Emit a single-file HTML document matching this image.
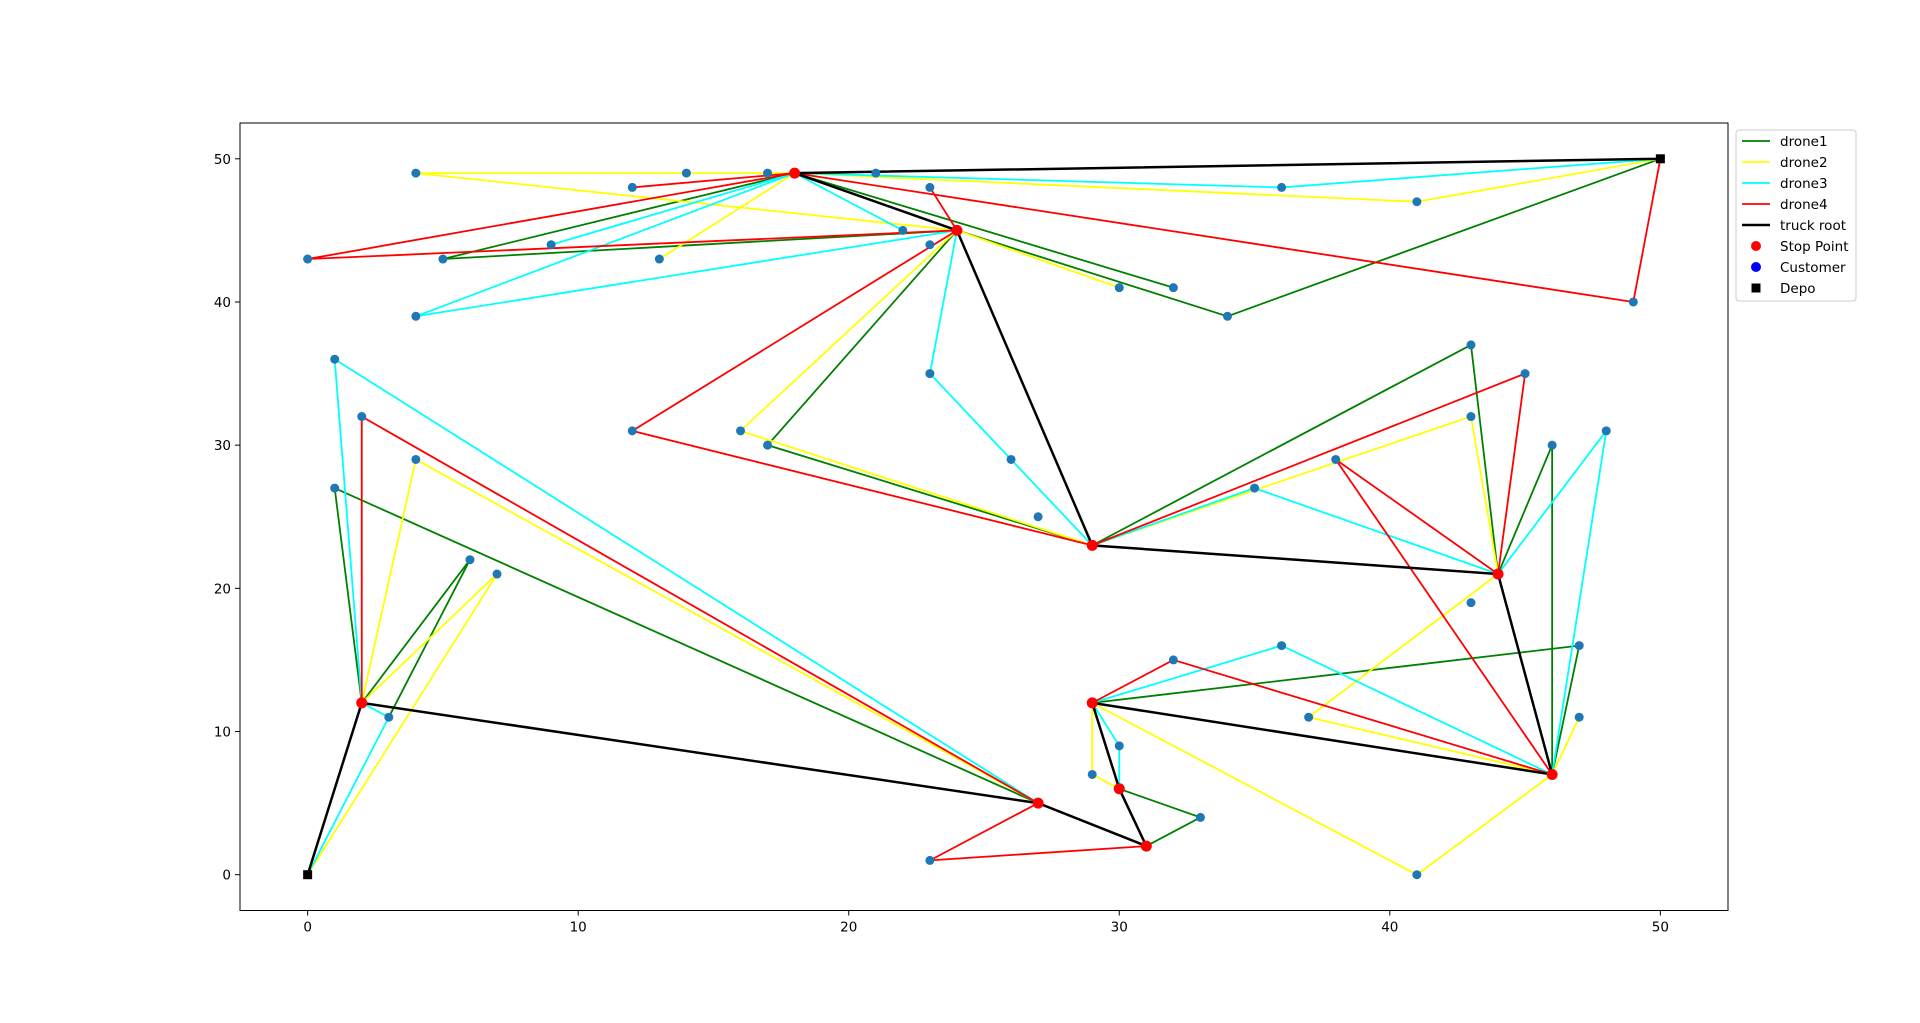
<!DOCTYPE html>
<html><head><meta charset="utf-8"><style>
body{margin:0;background:#fff;}
svg{display:block;font-family:"DejaVu Sans","Liberation Sans",sans-serif;}
</style></head><body>
<svg id="chart" width="1920" height="1023"></svg>
<script>
const xTicks=[0,10,20,30,40,50];
const yTicks=[0,10,20,30,40,50];
const depots=[[0,0],[50,50]];
const stops=[[2,12],[27,5],[31,2],[30,6],[29,12],[46,7],[44,21],[29,23],[24,45],[18,49]];
const truckRoute=[[0,0],[2,12],[27,5],[31,2],[30,6],[29,12],[46,7],[44,21],[29,23],[24,45],[18,49],[50,50]];
const drone1=[[[18,49],[5,43],[24,45]],[[18,49],[32,41]],[[24,45],[34,39],[50,50]],[[24,45],[17,30],[29,23]],[[29,23],[43,37],[44,21]],[[44,21],[46,30],[46,7]],[[46,7],[47,16],[29,12]],[[30,6],[33,4],[31,2]],[[27,5],[1,27],[2,12]],[[2,12],[6,22],[3,11]]];
const drone2=[[[18,49],[4,49],[24,45]],[[13,43],[18,49]],[[18,49],[41,47],[50,50]],[[24,45],[30,41]],[[24,45],[16,31],[29,23]],[[29,23],[43,32],[44,21]],[[44,21],[37,11],[46,7]],[[46,7],[47,11]],[[46,7],[41,0],[29,12]],[[29,12],[29,7],[30,6]],[[27,5],[4,29],[2,12]],[[2,12],[7,21],[0,0]]];
const drone3=[[[18,49],[4,39],[24,45]],[[9,44],[18,49]],[[18,49],[36,48],[50,50]],[[18,49],[22,45]],[[24,45],[23,35],[26,29],[29,23]],[[29,23],[35,27],[44,21]],[[44,21],[48,31],[46,7]],[[29,12],[36,16],[46,7]],[[29,12],[30,9],[30,6]],[[27,5],[1,36],[2,12]],[[2,12],[3,11],[0,0]]];
const drone4=[[[18,49],[0,43],[24,45]],[[12,48],[18,49]],[[23,48],[24,45]],[[18,49],[49,40],[50,50]],[[24,45],[12,31],[29,23]],[[29,23],[45,35],[44,21]],[[44,21],[38,29],[46,7]],[[29,12],[32,15],[46,7]],[[31,2],[23,1],[27,5]],[[27,5],[2,32],[2,12]]];
const customers=[[4,49],[14,49],[17,49],[21,49],[12,48],[23,48],[36,48],[41,47],[22,45],[9,44],[23,44],[0,43],[5,43],[13,43],[30,41],[32,41],[49,40],[4,39],[34,39],[43,37],[1,36],[23,35],[45,35],[2,32],[43,32],[12,31],[16,31],[48,31],[17,30],[46,30],[4,29],[26,29],[38,29],[1,27],[35,27],[27,25],[6,22],[7,21],[43,19],[47,16],[36,16],[32,15],[3,11],[37,11],[47,11],[30,9],[29,7],[33,4],[23,1],[41,0]];

const L=240,R=1728,T=123,B=910.5;
const X=v=>L+(v+2.5)/55*(R-L);
const Y=v=>B-(v+2.5)/55*(B-T);
const svg=document.getElementById('chart');
const NS='http://www.w3.org/2000/svg';
function mk(t,a,p){const e=document.createElementNS(NS,t);for(const k in a)e.setAttribute(k,a[k]);(p||svg).appendChild(e);return e;}

const frame=mk('rect',{x:L,y:T,width:R-L,height:B-T,fill:'none',stroke:'#000','stroke-width':1});


xTicks.forEach(v=>{
  const l=mk('line',{x1:X(v),x2:X(v),y1:B,y2:B+5,stroke:'#000'});
  
  
  const t=mk('text',{x:X(v),y:B+21,'text-anchor':'middle','font-size':13.5});
  t.textContent=v;
  
  
});
yTicks.forEach(v=>{
  const l=mk('line',{x1:L-5,x2:L,y1:Y(v),y2:Y(v),stroke:'#000'});
  
  
  const t=mk('text',{x:L-9,y:Y(v)+5,'text-anchor':'end','font-size':13.5});
  t.textContent=v;
  
  
});
function drawTrips(trips,color,name){
  trips.forEach(tr=>{
    const p=mk('polyline',{points:tr.map(q=>X(q[0])+','+Y(q[1])).join(' '),fill:'none',stroke:color,'stroke-width':1.8});
    
    
  });
}
drawTrips(drone1,'#008000','drone1');
drawTrips(drone2,'#ffff00','drone2');
drawTrips(drone3,'#00ffff','drone3');
drawTrips(drone4,'#ff0000','drone4');
const tr=mk('polyline',{points:truckRoute.map(q=>X(q[0])+','+Y(q[1])).join(' '),fill:'none',stroke:'#000','stroke-width':2.5});


customers.forEach(c=>{
  const d=mk('circle',{cx:X(c[0]),cy:Y(c[1]),r:4.5,fill:'#1f77b4'});
  
  
});
stops.forEach(c=>{
  const d=mk('circle',{cx:X(c[0]),cy:Y(c[1]),r:5.5,fill:'#ff0000'});
  
  
});
depots.forEach(c=>{
  const d=mk('rect',{x:X(c[0])-4.5,y:Y(c[1])-4.5,width:9,height:9,fill:'#000'});
  
  
});
// legend
const lg=mk('g',{});


mk('rect',{x:1736,y:130,width:120,height:171,rx:3,fill:'#fff',stroke:'#ccc'},lg);
const items=[['drone1','line','#008000'],['drone2','line','#ffff00'],['drone3','line','#00ffff'],['drone4','line','#ff0000'],['truck root','line','#000'],['Stop Point','dot','#ff0000'],['Customer','dot','#0000ff'],['Depo','sq','#000']];
items.forEach((it,i)=>{
  const y=141+i*21;
  const g=mk('g',{},lg);
  
  
  if(it[1]==='line')mk('line',{x1:1742,x2:1770,y1:y,y2:y,stroke:it[2],'stroke-width':it[0]==='truck root'?2.5:1.8},g);
  else if(it[1]==='dot')mk('circle',{cx:1756,cy:y,r:5,fill:it[2]},g);
  else mk('rect',{x:1751.5,y:y-4.5,width:9,height:9,fill:it[2]},g);
  const t=mk('text',{x:1780,y:y+5,'font-size':13.5},g);
  t.textContent=it[0];
});
</script>
</body></html>
